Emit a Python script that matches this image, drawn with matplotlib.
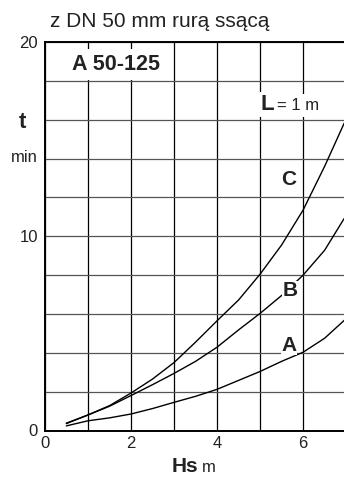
import numpy as np
import matplotlib.pyplot as plt
from matplotlib.ticker import MultipleLocator

plt.rcParams['font.family'] = ['Liberation Sans', 'DejaVu Sans']

# Hs [m] and filling time t [min]
hs = [0.5, 1.0, 1.5, 2.0, 2.5, 3.0, 3.5, 4.0, 4.5, 5.0, 5.5, 6.0, 6.5, 6.95]
t_a = [0.24, 0.5, 0.65, 0.85, 1.13, 1.45, 1.76, 2.12, 2.58, 3.04, 3.56, 4.03, 4.75, 5.66]
t_b = [0.36, 0.8, 1.25, 1.8, 2.36, 2.94, 3.56, 4.29, 5.18, 6.03, 6.95, 8.0, 9.28, 10.9]
t_c = [0.38, 0.8, 1.28, 1.93, 2.65, 3.5, 4.55, 5.65, 6.72, 8.05, 9.55, 11.35, 13.6, 15.8]

curve_names = ['A', 'B', 'C']
label_pos = [(5.67, 4.4), (5.69, 7.2), (5.67, 12.9)]

xticks = [0, 2, 4, 6]
yticks = [0, 10, 20]

fig = plt.figure(figsize=(3.44, 4.8), dpi=100)
ax = fig.add_axes([45/344, 1 - 430.5/480, 299/344, (430.5 - 42)/480])

for t in [t_a, t_b, t_c]:
    ax.plot(hs, t, color='black', lw=1.0, zorder=3, solid_joinstyle='round')

ax.set_xlim(0, 6.95)
ax.set_ylim(0, 20)
ax.set_xticks(xticks)
ax.set_yticks(yticks)
ax.xaxis.set_minor_locator(MultipleLocator(1))
ax.yaxis.set_minor_locator(MultipleLocator(2))
ax.tick_params(which='both', length=0, labelsize=12, colors='#222222')
ax.tick_params(axis='y', pad=5)
ax.tick_params(axis='x', pad=4)

ax.grid(axis='x', which='both', color='black', lw=0.9, zorder=1)
ax.grid(axis='y', which='both', color='#555555', lw=0.9, zorder=1)
ax.set_axisbelow(True)

for s in ['left', 'bottom', 'top']:
    ax.spines[s].set_linewidth(1.4)
ax.spines['right'].set_visible(False)

for name, (x, y) in zip(curve_names, label_pos):
    ax.text(x, y, name, fontsize=15, fontweight='bold', ha='center', va='center',
            color='#222222', zorder=4,
            bbox=dict(facecolor='white', edgecolor='none', pad=0.5))

ax.text(0.63, 18.84, 'A 50-125', fontsize=15.5, fontweight='bold', ha='left', va='center',
        color='#222222', zorder=4,
        bbox=dict(facecolor='white', edgecolor='none', pad=3.5))

ax.text(5.40, 16.5, '= 1 m', fontsize=12, ha='left', va='baseline',
        color='#222222', zorder=4,
        bbox=dict(facecolor='white', edgecolor='none', pad=3))
ax.text(5.02, 16.5, 'L', fontsize=16, fontweight='bold', ha='left', va='baseline',
        color='#222222', zorder=5,
        bbox=dict(facecolor='white', edgecolor='none', pad=1.5))

fig.text(50/344, 1 - 27/480, 'z DN 50 mm rurą ssącą', fontsize=15,
         ha='left', va='baseline', color='#222222')
fig.text(22/344, 1 - 123/480, 't', fontsize=16, fontweight='bold',
         ha='center', va='center', color='#222222')
fig.text(24/344, 1 - 157/480, 'min', fontsize=12, ha='center', va='center', color='#222222')
fig.text(172/344, 1 - 472/480, 'Hs', fontsize=15, fontweight='bold',
         ha='left', va='baseline', color='#222222')
fig.text(202/344, 1 - 472/480, 'm', fontsize=12, ha='left', va='baseline', color='#222222')

fig.savefig('out.png', dpi=100)
